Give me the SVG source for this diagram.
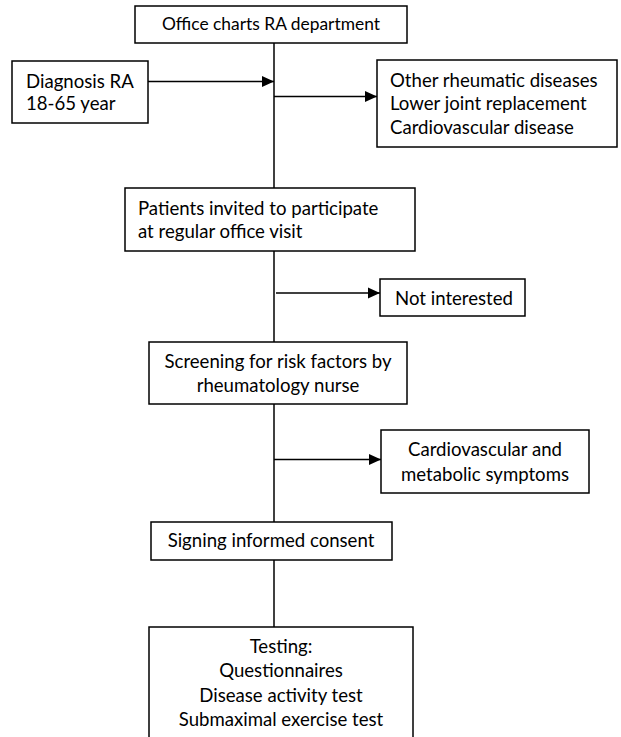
<svg xmlns="http://www.w3.org/2000/svg" width="621" height="737" viewBox="0 0 621 737">
<style>
.box{fill:#fff;stroke:#000;stroke-width:1.5}
.ln{stroke:#000;stroke-width:1.5;fill:none}
text{font-family:Lato,"Open Sans",sans-serif;font-size:18.6px;fill:#000}
.c{text-anchor:middle}
.s{font-size:17.4px}
</style>
<defs>
<marker id="ah" markerWidth="12" markerHeight="12" refX="12" refY="6" orient="auto" markerUnits="userSpaceOnUse">
<path d="M0,0.5 L12,6 L0,11.5 Z" fill="#000"/>
</marker>
</defs>
<g id="connectors">
<line class="ln" x1="274" y1="43" x2="274" y2="188"/>
<line class="ln" x1="148" y1="81.5" x2="274" y2="81.5" marker-end="url(#ah)"/>
<line class="ln" x1="274" y1="96.5" x2="377" y2="96.5" marker-end="url(#ah)"/>
<line class="ln" x1="274" y1="251" x2="274" y2="342"/>
<line class="ln" x1="276" y1="293" x2="380" y2="293" marker-end="url(#ah)"/>
<line class="ln" x1="274" y1="404" x2="274" y2="522"/>
<line class="ln" x1="274" y1="459.5" x2="381" y2="459.5" marker-end="url(#ah)"/>
<line class="ln" x1="274" y1="560" x2="274" y2="627"/>
</g>
<g id="n-office"><rect class="box" x="135" y="6" width="272" height="37"/><text class="c s" x="271" y="30">Office charts RA department</text></g>
<g id="n-diagnosis"><rect class="box" x="12" y="61" width="136" height="62"/><text x="26" y="88">Diagnosis RA</text><text x="26" y="110">18-65 year</text></g>
<g id="n-excl1"><rect class="box" x="377" y="60" width="240" height="87"/><text x="390" y="87">Other rheumatic diseases</text><text x="390" y="110">Lower joint replacement</text><text x="390" y="134">Cardiovascular disease</text></g>
<g id="n-invited"><rect class="box" x="125" y="188" width="290" height="63"/><text x="138" y="215">Patients invited to participate</text><text x="138" y="238">at regular office visit</text></g>
<g id="n-notint"><rect class="box" x="380" y="279" width="145" height="37"/><text x="395" y="305">Not interested</text></g>
<g id="n-screen"><rect class="box" x="149" y="342" width="258" height="62"/><text class="c" x="278" y="368">Screening for risk factors by</text><text class="c" x="278" y="392">rheumatology nurse</text></g>
<g id="n-cardio"><rect class="box" x="381" y="430" width="208" height="63"/><text class="c" x="485" y="456">Cardiovascular and</text><text class="c" x="485" y="481">metabolic symptoms</text></g>
<g id="n-consent"><rect class="box" x="151" y="522" width="241" height="38"/><text class="c" x="271" y="547">Signing informed consent</text></g>
<g id="n-testing"><rect class="box" x="149" y="627" width="264" height="120"/><text class="c" x="281" y="653">Testing:</text><text class="c" x="281" y="677">Questionnaires</text><text class="c" x="281" y="702">Disease activity test</text><text class="c" x="281" y="726">Submaximal exercise test</text></g>
</svg>
